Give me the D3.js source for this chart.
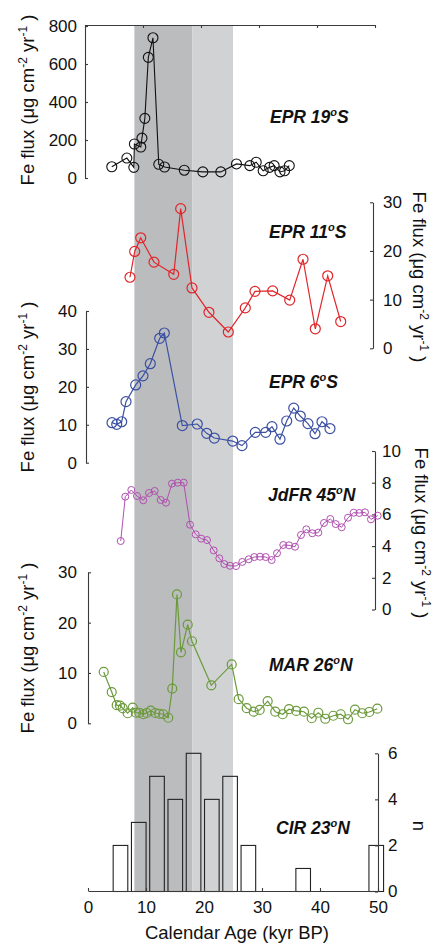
<!DOCTYPE html>
<html><head><meta charset="utf-8">
<script src="https://cdn.jsdelivr.net/npm/d3@7"></script>
<style>
html,body{margin:0;padding:0;background:#fff;}
svg{display:block;font-family:"Liberation Sans",Arial,Helvetica,sans-serif;}
</style></head>
<body>
<svg id="chart" width="435" height="945"></svg>
<script>
// ---------- DATA ----------
const xTicks = [0,10,20,30,40,50];
const shadeDark = [8,18];
const shadeLight = [18,25];

const epr19Age  = [4.1,6.7,7.9,8.0,9.1,9.3,9.8,10.4,11.2,12.2,13.2,16.6,19.8,22.9,25.6,27.9,29.0,30.2,31.3,32.1,33.1,33.9,34.7];
const epr19Flux = [59,105,56,179,163,210,314,635,738,72,58,41,32,32,74,65,83,38,56,65,32,38,65];
const epr19Ticks = [0,200,400,600,800];

const epr11Age  = [7.24,8.05,9.09,11.38,14.78,15.98,17.93,20.86,24.19,27.12,28.79,31.84,34.78,37.07,39.19,41.33,43.57];
const epr11Flux = [14.6,19.9,22.7,17.7,15.2,28.7,12.4,7.4,3.35,8.3,11.7,11.8,9.9,18.3,4.0,14.9,5.5];
const epr11Ticks = [0,10,20,30];

const epr6Age  = [4.14,4.95,5.81,6.55,8.22,9.48,10.74,12.36,13.16,16.26,18.84,20.47,21.78,24.95,26.55,28.84,30.64,31.72,33.1,34.26,35.47,36.6,37.93,39.14,40.34,41.72];
const epr6Flux = [10.55,10.13,10.8,16.1,20.5,22.9,26.1,32.8,34.2,9.8,10.2,7.75,6.5,5.7,4.5,8.0,8.0,9.5,6.2,11.0,14.4,12.3,10.3,7.65,10.8,9.0];
const epr6Ticks = [0,10,20,30,40];

const jdfrAge  = [5.64,6.43,7.47,8.45,9.53,10.52,11.5,12.53,13.45,14.48,15.47,16.5,17.59,18.57,19.53,20.52,21.67,22.64,23.5,24.48,25.52,26.6,27.71,28.67,29.66,30.64,31.67,32.59,33.67,34.66,35.69,36.72,37.64,38.67,39.71,40.69,41.78,42.71,43.74,44.83,45.81,46.78,47.76,48.79,49.95];
const jdfrFlux = [4.32,7.12,7.54,7.16,6.89,7.35,7.48,6.91,6.74,7.94,8.0,8.0,5.35,4.74,4.47,4.38,3.73,3.23,2.87,2.76,2.74,3.0,3.17,3.31,3.33,3.31,3.12,3.55,4.07,4.05,3.96,4.7,5.06,4.81,4.85,5.46,5.71,5.39,5.19,5.79,6.11,6.09,6.13,5.69,5.92];
const jdfrTicks = [0,2,4,6,8,10];

const marAge  = [2.71,4.09,4.95,5.52,5.98,6.84,7.71,8.28,8.84,9.53,10.12,10.81,11.6,12.29,12.98,13.84,14.53,15.34,16.03,17.19,17.93,21.26,24.78,25.98,27.36,28.57,29.6,30.98,32.29,33.57,34.66,35.91,37.24,38.57,39.71,40.91,42.29,43.57,44.83,46.03,47.29,48.5,49.88];
const marFlux = [10.2,6.2,3.6,3.5,3.0,2.0,3.1,2.1,2.1,1.8,2.05,2.5,2.05,1.9,1.8,1.1,6.9,25.6,14.1,19.6,16.3,7.55,11.7,4.8,3.0,2.3,2.65,4.4,2.3,1.8,2.8,2.45,2.3,1.0,2.1,0.9,1.5,1.8,0.8,2.7,2.0,2.25,2.9];
const marTicks = [0,10,20,30];

const cirBinCenters = [2.45,5.6,8.75,11.9,15.05,18.2,21.35,24.5,27.65,30.8,33.95,37.1,40.25,43.4,46.55,49.7];
const cirCounts     = [0,2,3,5,4,6,4,5,2,0,0,1,0,0,0,2];
const cirTicks = [0,2,4,6];

// ---------- DRAW ----------
const svg = d3.select("#chart");
const x = d3.scaleLinear().domain([0,50]).range([88,378]);
const xTop = d3.scaleLinear().domain([0,50]).range([85,375]);
const axisColor = "#3a3a3a";
const tickFont = 17;
const fmt = d3.format("d");

// shading
const yTopShade = 25, yBotShade = 891;
svg.append("rect").attr("x", x(shadeDark[0])).attr("y", yTopShade)
  .attr("width", x(shadeDark[1]) - x(shadeDark[0])).attr("height", yBotShade - yTopShade)
  .attr("fill", "#bbbcbe");
svg.append("rect").attr("x", x(shadeLight[0])).attr("y", yTopShade)
  .attr("width", x(shadeLight[1]) - x(shadeLight[0])).attr("height", yBotShade - yTopShade)
  .attr("fill", "#d1d2d4");

function styleAxis(g){
  g.selectAll("path.domain").attr("stroke", axisColor).attr("stroke-width", 1.1);
  g.selectAll(".tick line").attr("stroke", axisColor).attr("stroke-width", 1.1);
  g.selectAll(".tick text").attr("fill", "#111").style("font-size", tickFont + "px")
    .style("font-family", '"Liberation Sans",Arial,Helvetica,sans-serif');
}

function fluxLabel(cx, cy, rot){
  const t = svg.append("text")
    .attr("transform", `translate(${cx},${cy}) rotate(${rot})`)
    .attr("text-anchor", "middle")
    .style("font-size", "18.5px").attr("fill", "#111");
  t.append("tspan").text("Fe flux (\u03BCg cm");
  t.append("tspan").text("-2").style("font-size", "12px").attr("dy", -7);
  t.append("tspan").text(" yr").attr("dy", 7);
  t.append("tspan").text("-1").style("font-size", "12px").attr("dy", -7);
  t.append("tspan").text(" )").attr("dy", 7);
}

function siteLabel(x0, cy, name, deg, tail){
  const t = svg.append("text").attr("x", x0).attr("y", cy).attr("dy", "0.36em")
    .style("font-size", "17.5px").style("font-weight", "bold").style("font-style", "italic")
    .attr("fill", "#111");
  t.append("tspan").text(name + " " + deg);
  t.append("tspan").text("o").style("font-size", "11px").attr("dy", -7);
  t.append("tspan").text(tail).attr("dy", 7);
}

function series(age, flux, y, color, r, sw){
  const pts = age.map((a,i)=>[x(a), y(flux[i])]);
  svg.append("path").attr("d", d3.line()(pts)).attr("fill","none")
    .attr("stroke", color).attr("stroke-width", sw);
  svg.append("g").selectAll("circle").data(pts).join("circle")
    .attr("cx", d=>d[0]).attr("cy", d=>d[1]).attr("r", r)
    .attr("fill","none").attr("stroke", color).attr("stroke-width", sw);
}

// Panel 1: EPR 19S
const y1 = d3.scaleLinear().domain([0,800]).range([178,26]);
svg.append("g").attr("transform","translate(85,0)")
  .call(d3.axisLeft(y1).tickValues(epr19Ticks).tickFormat(fmt).tickSize(-3).tickSizeOuter(0).tickPadding(8)).call(styleAxis);
svg.append("g").attr("transform","translate(0,25)")
  .call(d3.axisTop(xTop).tickValues(xTicks).tickSize(-3).tickSizeOuter(0).tickFormat("")).call(styleAxis);
fluxLabel(34, 100, -90);
series(epr19Age, epr19Flux, y1, "#111", 5, 1.1);
siteLabel(270, 117, "EPR", "19", "S");

// Panel 2: EPR 11S
const y2 = d3.scaleLinear().domain([0,30]).range([348.3,202.3]);
svg.append("g").attr("transform","translate(373,0)")
  .call(d3.axisRight(y2).tickValues(epr11Ticks).tickFormat(fmt).tickSize(-3).tickSizeOuter(0).tickPadding(10)).call(styleAxis);
fluxLabel(413, 277, 90);
series(epr11Age, epr11Flux, y2, "#e0262b", 5, 1.2);
siteLabel(269, 232, "EPR", "11", "S");

// Panel 3: EPR 6S
const y3 = d3.scaleLinear().domain([0,40]).range([462.7,311]);
svg.append("g").attr("transform","translate(86,0)")
  .call(d3.axisLeft(y3).tickValues(epr6Ticks).tickFormat(fmt).tickSize(-3).tickSizeOuter(0).tickPadding(9)).call(styleAxis);
fluxLabel(34, 387, -90);
series(epr6Age, epr6Flux, y3, "#3b50a3", 5, 1.2);
siteLabel(269, 382, "EPR", "6", "S");

// Panel 4: JdFR 45N
const y4 = d3.scaleLinear().domain([0,10]).range([609.5,451]);
svg.append("g").attr("transform","translate(375,0)")
  .call(d3.axisRight(y4).tickValues(jdfrTicks).tickFormat(fmt).tickSize(-3).tickSizeOuter(0).tickPadding(7)).call(styleAxis);
fluxLabel(415, 533, 90);
series(jdfrAge, jdfrFlux, y4, "#b050b0", 3.5, 1.0);
siteLabel(268, 495, "JdFR", "45", "N");

// Panel 5: MAR 26N
const y5 = d3.scaleLinear().domain([0,30]).range([723.3,572.3]);
svg.append("g").attr("transform","translate(88,0)")
  .call(d3.axisLeft(y5).tickValues(marTicks).tickFormat(fmt).tickSize(-3).tickSizeOuter(0).tickPadding(11)).call(styleAxis);
fluxLabel(34, 648, -90);
series(marAge, marFlux, y5, "#6b9a3b", 4.5, 1.2);
siteLabel(269, 665, "MAR", "26", "N");

// Panel 6: CIR 23N histogram
const yh = d3.scaleLinear().domain([0,6]).range([891.5,753.3]);
const bw = 0.8 * 3.15;
svg.append("g").selectAll("rect").data(cirBinCenters.map((c,i)=>({c, n:cirCounts[i]}))).join("rect")
  .attr("x", d=>x(d.c - bw/2)).attr("width", x(bw) - x(0))
  .attr("y", d=>yh(d.n)).attr("height", d=>yh(0)-yh(d.n))
  .attr("fill","none").attr("stroke","#222").attr("stroke-width",1.1);
svg.append("g").attr("transform","translate(378,0)")
  .call(d3.axisRight(yh).tickValues(cirTicks).tickFormat(fmt).tickSize(-3).tickSizeOuter(0).tickPadding(10)).call(styleAxis);
svg.append("text").attr("transform","translate(413,826) rotate(90)").attr("text-anchor","middle")
  .style("font-size","18.5px").attr("fill","#111").text("n");
siteLabel(276, 828, "CIR", "23", "N");

// bottom x axis
svg.append("g").attr("transform","translate(0,891)")
  .call(d3.axisBottom(x).tickValues(xTicks).tickFormat(fmt).tickSize(-3).tickSizeOuter(0).tickPadding(10)).call(styleAxis);
svg.append("text").attr("x", 237).attr("y", 939).attr("text-anchor","middle")
  .style("font-size","18.5px").attr("fill","#111").text("Calendar Age (kyr BP)");
</script>
</body></html>
